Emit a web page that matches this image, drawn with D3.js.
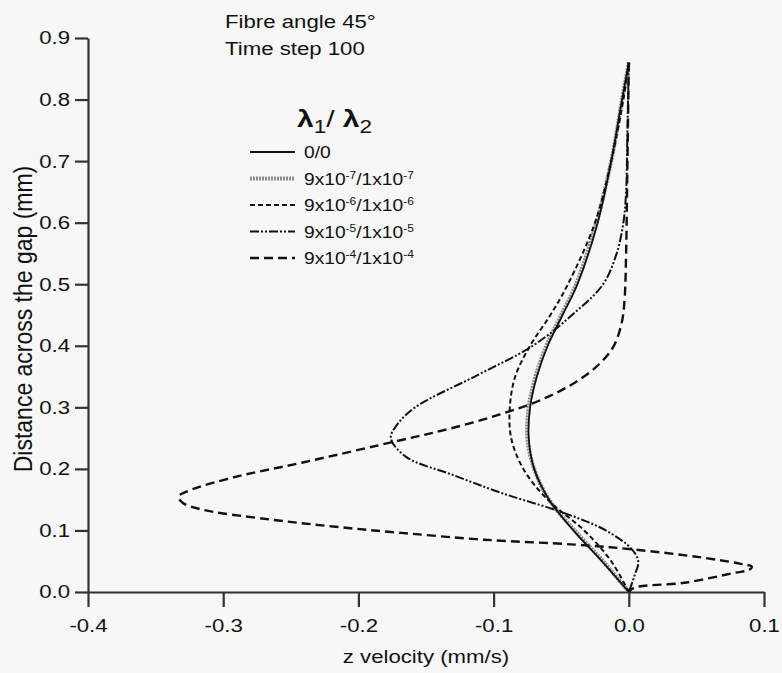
<!DOCTYPE html>
<html>
<head>
<meta charset="utf-8">
<script src="https://cdn.jsdelivr.net/npm/d3@7.9.0/dist/d3.min.js"></script>
<style>
  html, body { margin: 0; padding: 0; background: #f7f7f7; }
  svg { display: block; font-family: "Liberation Sans", Arial, sans-serif; }
</style>
</head>
<body>
<svg id="chart" width="782" height="673"></svg>
<script>
// distance across the gap (mm) and z velocity (mm/s)
const gapA = [0.86, 0.80, 0.70, 0.60, 0.50, 0.45, 0.40, 0.35, 0.30, 0.25, 0.20, 0.15, 0.10, 0.05, 0.00];
const vel00 = [0, -0.005, -0.013, -0.023, -0.038, -0.049, -0.060, -0.068, -0.073, -0.074, -0.070, -0.059, -0.041, -0.020, 0];
const vel7 = [0, -0.005, -0.013, -0.024, -0.039, -0.050, -0.061, -0.069, -0.074, -0.075, -0.070, -0.059, -0.040, -0.019, 0];
const vel6 = [0, -0.004, -0.013, -0.025, -0.045, -0.058, -0.073, -0.084, -0.088, -0.087, -0.078, -0.060, -0.033, -0.013, 0];

const gap5 = [0.86, 0.75, 0.65, 0.60, 0.55, 0.50, 0.45, 0.40, 0.35, 0.30, 0.27, 0.25, 0.22, 0.19, 0.16, 0.13, 0.10, 0.07, 0.05, 0.025, 0];
const vel5 = [0, -0.001, -0.002, -0.004, -0.009, -0.019, -0.042, -0.071, -0.114, -0.158, -0.172, -0.176, -0.165, -0.130, -0.093, -0.050, -0.017, 0.002, 0.007, 0.004, 0];

const gap4 = [0.86, 0.70, 0.55, 0.48, 0.44, 0.40, 0.37, 0.34, 0.313, 0.288, 0.265, 0.247, 0.21, 0.187, 0.165, 0.155, 0.145, 0.134, 0.118, 0.106, 0.096, 0.085, 0.077, 0.069, 0.056, 0.046, 0.041, 0.036, 0.031, 0.015, 0.007, 0];
const vel4 = [0, -0.001, -0.002, -0.003, -0.005, -0.011, -0.022, -0.040, -0.064, -0.096, -0.133, -0.168, -0.242, -0.291, -0.325, -0.333, -0.330, -0.316, -0.266, -0.217, -0.168, -0.107, -0.040, 0.004, 0.054, 0.082, 0.091, 0.089, 0.078, 0.041, 0.004, 0];

const xTicks = [-0.4, -0.3, -0.2, -0.1, 0.0, 0.1];
const yTicks = [0.0, 0.1, 0.2, 0.3, 0.4, 0.5, 0.6, 0.7, 0.8, 0.9];

const legendLabels = [
  ['0/0'],
  ['9x10', '-7', '/1x10', '-7'],
  ['9x10', '-6', '/1x10', '-6'],
  ['9x10', '-5', '/1x10', '-5'],
  ['9x10', '-4', '/1x10', '-4']
];

// the scan is stretched sideways, so text gets widened a little
const SX = 1.2;

const svg = d3.select('#chart');
const x = d3.scaleLinear().domain([-0.4, 0.1]).range([88, 764]);
const y = d3.scaleLinear().domain([0, 0.9]).range([592, 38]);

const styles = [
  { stroke: '#8c8c8c', width: 4, dash: '2,1' },
  { stroke: '#111', width: 1.8, dash: null },
  { stroke: '#111', width: 2, dash: '5,3' },
  { stroke: '#111', width: 2, dash: '9,2,2,2,2,2' },
  { stroke: '#111', width: 2.4, dash: '9,5' }
];

const series = [
  { gap: gapA, vel: vel7, st: styles[0] },
  { gap: gapA, vel: vel00, st: styles[1] },
  { gap: gapA, vel: vel6, st: styles[2] },
  { gap: gap5, vel: vel5, st: styles[3] },
  { gap: gap4, vel: vel4, st: styles[4] }
];

const line = d3.line()
  .x((d) => x(d[0]))
  .y((d) => y(d[1]))
  .curve(d3.curveCatmullRom.alpha(0.5));

const fmt = (d) => d.toFixed(1);

// axes
const yAxis = svg.append('g')
  .attr('transform', `translate(${x(-0.4)},0)`)
  .call(d3.axisLeft(y).tickValues(yTicks).tickFormat(fmt).tickSize(13).tickSizeOuter(0).tickPadding(5));
const xAxis = svg.append('g')
  .attr('transform', `translate(0,${y(0)})`)
  .call(d3.axisBottom(x).tickValues(xTicks).tickFormat(fmt).tickSize(15).tickSizeOuter(0).tickPadding(12));

[yAxis, xAxis].forEach((g) => {
  g.select('.domain').attr('stroke', '#333').attr('stroke-width', 2.2);
  g.selectAll('.tick line').attr('stroke', '#333').attr('stroke-width', 2.2);
  g.selectAll('.tick text')
    .attr('fill', '#111')
    .style('font-size', '18.5px')
    .attr('transform', `scale(${SX},1)`);
});
yAxis.selectAll('.tick text').attr('x', -18 / SX);

// curves
series.forEach((s) => {
  const pts = s.gap.map((g, i) => [s.vel[i], g]);
  svg.append('path')
    .datum(pts)
    .attr('d', line)
    .attr('fill', 'none')
    .attr('stroke', s.st.stroke)
    .attr('stroke-width', s.st.width)
    .attr('stroke-dasharray', s.st.dash)
    .attr('stroke-linejoin', 'round');
});

function label(txt, px, py, size, anchor) {
  return svg.append('text')
    .attr('transform', `translate(${px},${py}) scale(${SX},1)`)
    .attr('text-anchor', anchor || 'start')
    .attr('fill', '#111')
    .style('font-size', size + 'px')
    .text(txt);
}

label('Fibre angle 45°', 225, 28, 18.5);
label('Time step 100', 225, 55, 18.5);
label('z velocity (mm/s)', 426, 663, 18.5, 'middle');

svg.append('text')
  .attr('transform', `translate(32,319) rotate(-90) scale(1,1.1)`)
  .attr('text-anchor', 'middle')
  .attr('fill', '#111')
  .style('font-size', '23px')
  .text('Distance across the gap (mm)');

// legend
const title = svg.append('text')
  .attr('transform', `translate(297,127) scale(1.25,1)`)
  .attr('fill', '#111')
  .style('font-size', '24px')
  .style('font-weight', 'bold');
title.append('tspan').text('λ');
title.append('tspan').attr('dy', 6).style('font-size', '18px').style('font-weight', 'normal').text('1');
title.append('tspan').attr('dy', -6).style('font-weight', 'normal').text('/ ');
title.append('tspan').text('λ');
title.append('tspan').attr('dy', 6).style('font-size', '18px').style('font-weight', 'normal').text('2');

const legendOrder = [1, 0, 2, 3, 4];
legendLabels.forEach((parts, i) => {
  const ly = 152 + i * 26.5;
  const st = styles[legendOrder[i]];
  svg.append('line')
    .attr('x1', 250).attr('x2', 295)
    .attr('y1', ly).attr('y2', ly)
    .attr('stroke', st.stroke)
    .attr('stroke-width', st.width)
    .attr('stroke-dasharray', st.dash);
  const t = svg.append('text')
    .attr('transform', `translate(304,${ly + 6}) scale(${SX},1)`)
    .attr('fill', '#111')
    .style('font-size', '16px');
  parts.forEach((p, k) => {
    const sup = k % 2 === 1;
    t.append('tspan')
      .attr('dy', sup ? -6 : (k > 0 ? 6 : 0))
      .style('font-size', sup ? '10px' : '16px')
      .text(p);
  });
});
</script>
</body>
</html>
